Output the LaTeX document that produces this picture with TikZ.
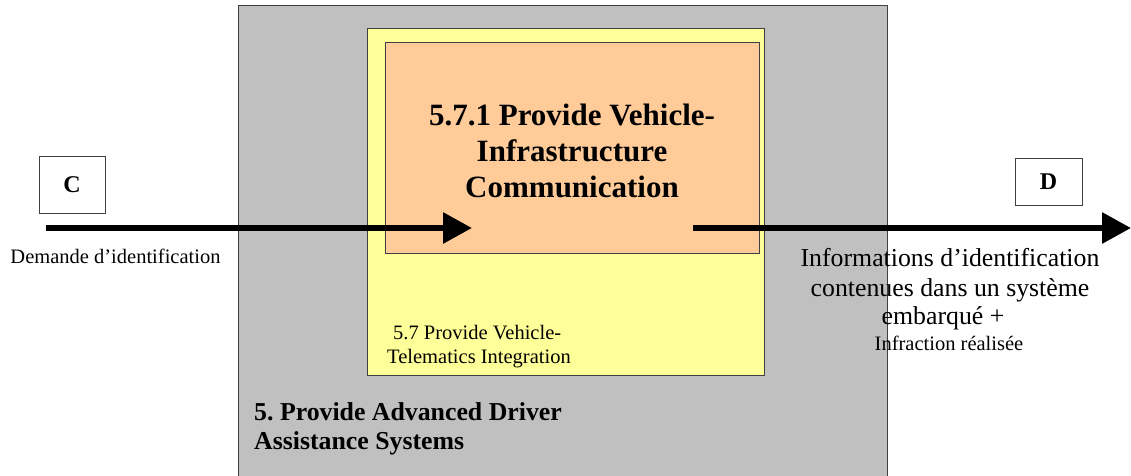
\documentclass[tikz,border=0pt]{standalone}
\usepackage{fontspec}
\setmainfont{Liberation Serif}
\usetikzlibrary{arrows.meta}
\definecolor{boxgrey}{HTML}{C0C0C0}
\definecolor{boxyellow}{HTML}{FFFF99}
\definecolor{boxorange}{HTML}{FFCC99}
\definecolor{edgecol}{HTML}{404040}
\frenchspacing
\begin{document}
\begin{tikzpicture}[x=1pt,y=-1pt,
  frame/.style={draw=edgecol,line width=0.9pt,inner sep=0pt,anchor=north west},
  letterbox/.style={draw=edgecol,line width=0.7pt,fill=white,inner sep=0pt,font=\bfseries\fontsize{24}{28}\selectfont},
  flow/.style={line width=6pt,-{Triangle[length=29pt,width=30pt]}},
  txt/.style={inner sep=0pt,anchor=base},
]
\useasboundingbox (0,0) rectangle (1131,475);
% outer grey box (bottom open, runs off the picture)
\fill[boxgrey] (238,5) rectangle (887,476);
\draw[edgecol,line width=0.9pt] (238,476) -- (238,5) -- (887,5) -- (887,476);
% yellow and orange boxes
\node[frame,fill=boxyellow,minimum width=397pt,minimum height=347pt] (yel) at (367,28) {};
\node[frame,fill=boxorange,minimum width=374pt,minimum height=211pt] (ora) at (385,42) {};
% titles (anchor = baseline of the last line)
\node[txt,align=center,font=\bfseries\fontsize{31}{36}\selectfont] (t571) at (572,197)
  {5.7.1 Provide Vehicle-\\Infrastructure\\Communication};
\node[txt,anchor=base west,align=left,font=\fontsize{20.5}{24}\selectfont] (t57) at (387,363)
  {\hspace*{6pt}5.7 Provide Vehicle-\\Telematics Integration};
\node[txt,anchor=base west,align=left,font=\bfseries\fontsize{25.8}{29}\selectfont] (t5) at (254,449)
  {5. Provide Advanced Driver\\Assistance Systems};
% letter boxes
\node[letterbox,minimum width=66pt,minimum height=57pt] (C) at (72,185) {C};
\node[letterbox,minimum width=67pt,minimum height=47pt] (D) at (1048.5,182) {D};
% flows
\coordinate (inS) at (46,228);
\coordinate (inE) at (472,228);
\coordinate (outS) at (693,228);
\coordinate (outE) at (1131,228);
\draw[flow] (inS) -- (inE);
\draw[flow] (outS) -- (outE);
% flow labels
\node[txt,font=\fontsize{20.5}{24}\selectfont] (lin) at (115.5,263) {Demande d’identification};
\node[txt,font=\fontsize{25.8}{30}\selectfont] (lout1) at (950,266) {Informations d’identification};
\node[txt,font=\fontsize{25.8}{30}\selectfont] (lout2) at (950,296) {contenues dans un système};
\node[txt,font=\fontsize{25.8}{30}\selectfont] (lout3) at (943,324.5) {embarqué +};
\node[txt,font=\fontsize{20.5}{24}\selectfont] (lout4) at (949,350) {Infraction réalisée};
\end{tikzpicture}
\end{document}
